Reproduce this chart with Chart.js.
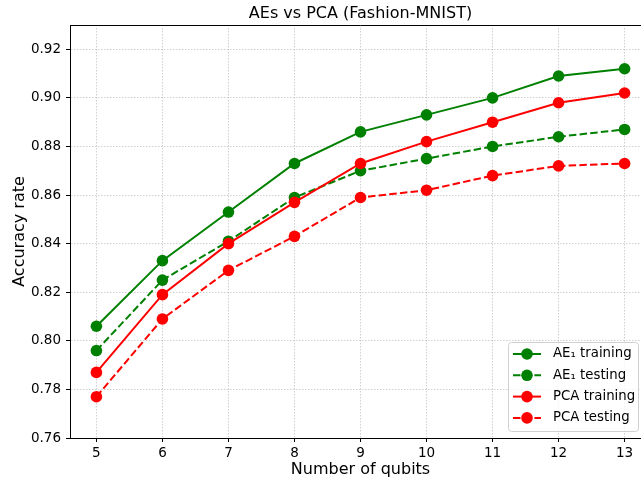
<!DOCTYPE html>
<html>
<head>
<meta charset="utf-8">
<script src="https://cdn.jsdelivr.net/npm/chart.js@4.4.1/dist/chart.umd.min.js"></script>
<style>
  html, body { margin: 0; padding: 0; background: #fff; overflow: hidden; }
  #wrap { width: 722px; height: 481px; }
</style>
</head>
<body>
<div id="wrap"><canvas id="accChart" width="722" height="481"></canvas></div>
<script>
// Data
const qubits = [5, 6, 7, 8, 9, 10, 11, 12, 13];
const aeTrain = [0.806, 0.833, 0.853, 0.873, 0.886, 0.893, 0.900, 0.909, 0.912];
const aeTest = [0.796, 0.825, 0.841, 0.859, 0.870, 0.875, 0.880, 0.884, 0.887];
const pcaTrain = [0.787, 0.819, 0.840, 0.857, 0.873, 0.882, 0.890, 0.898, 0.902];
const pcaTest = [0.777, 0.809, 0.829, 0.843, 0.859, 0.862, 0.868, 0.872, 0.873];
const yTicks = [0.76, 0.78, 0.80, 0.82, 0.84, 0.86, 0.88, 0.90, 0.92];

const FONT = 'DejaVu Sans';
const GREEN = '#008000';
const RED = '#ff0000';
const DASH = [7.5, 3.2];

function series(label, values, color, dashed, order) {
    return {
        label: label,
        data: qubits.map((q, i) => ({ x: q, y: values[i] })),
        borderColor: color,
        backgroundColor: color,
        borderWidth: 2,
        borderDash: dashed ? DASH : [],
        pointRadius: 5.8,
        pointBorderWidth: 0,
        pointBackgroundColor: color,
        tension: 0,
        order: order,
        _dashed: dashed
    };
}

// Title above the axes and the top spine
const framePlugin = {
    id: 'frame',
    afterDraw(chart) {
        const { ctx, chartArea } = chart;
        ctx.save();
        ctx.strokeStyle = '#000';
        ctx.lineWidth = 1;
        ctx.beginPath();
        ctx.moveTo(chartArea.left, chartArea.top + 0.5);
        ctx.lineTo(chartArea.right, chartArea.top + 0.5);
        ctx.stroke();
        ctx.fillStyle = '#000';
        ctx.font = `16px "${FONT}"`;
        ctx.textAlign = 'center';
        ctx.textBaseline = 'alphabetic';
        ctx.fillText('AEs vs PCA (Fashion-MNIST)', (chartArea.left + chartArea.right) / 2, 18);
        ctx.restore();
    }
};

// Legend box in the lower right corner of the axes
const legendPlugin = {
    id: 'boxLegend',
    afterDraw(chart) {
        const { ctx } = chart;
        const x0 = 508, y0 = 342, w = 130, h = 89;
        ctx.save();
        ctx.beginPath();
        ctx.roundRect(x0 + 0.5, y0 + 0.5, w, h, 3);
        ctx.fillStyle = 'rgba(255,255,255,0.8)';
        ctx.fill();
        ctx.strokeStyle = '#d0d0d0';
        ctx.lineWidth = 1;
        ctx.stroke();
        ctx.font = `13.3px "${FONT}"`;
        ctx.textBaseline = 'middle';
        ctx.textAlign = 'left';
        const sets = chart.data.datasets;
        sets.forEach((ds, i) => {
            const y = 354 + i * 21.3;
            ctx.strokeStyle = ds.borderColor;
            ctx.lineWidth = 2;
            ctx.setLineDash(ds._dashed ? DASH : []);
            ctx.beginPath();
            ctx.moveTo(513, y);
            ctx.lineTo(541, y);
            ctx.stroke();
            ctx.setLineDash([]);
            ctx.fillStyle = ds.borderColor;
            ctx.beginPath();
            ctx.arc(527, y, 5.8, 0, Math.PI * 2);
            ctx.fill();
            ctx.fillStyle = '#000';
            ctx.fillText(ds.label, 553, y);
        });
        ctx.restore();
    }
};

const gridOpts = {
    color: 'rgba(176,176,176,0.6)',
    lineWidth: 1,
    tickColor: '#000',
    tickLength: 4,
    tickWidth: 1,
    tickBorderDash: []
};

new Chart(document.getElementById('accChart'), {
    type: 'line',
    data: {
        datasets: [
            series('AE\u2081 training', aeTrain, GREEN, false, 4),
            series('AE\u2081 testing', aeTest, GREEN, true, 3),
            series('PCA training', pcaTrain, RED, false, 2),
            series('PCA testing', pcaTest, RED, true, 1)
        ]
    },
    options: {
        responsive: false,
        animation: false,
        devicePixelRatio: 1,
        layout: { padding: { top: 25, right: 71, left: 0, bottom: 0 } },
        plugins: {
            legend: { display: false },
            tooltip: { enabled: false },
            title: { display: false }
        },
        scales: {
            x: {
                type: 'linear',
                min: 4.6,
                max: 13.4,
                afterFit: s => { s.height = 43; },
                afterBuildTicks: s => { s.ticks = qubits.map(v => ({ value: v })); },
                ticks: {
                    color: '#000',
                    padding: 3,
                    font: { family: FONT, size: 13.5 },
                    callback: v => String(v)
                },
                grid: gridOpts,
                border: { display: true, color: '#000', width: 1, dash: [1.5, 1.5] },
                title: {
                    display: true,
                    text: 'Number of qubits',
                    color: '#000',
                    font: { family: FONT, size: 16 },
                    padding: { top: 0, bottom: 2 }
                }
            },
            y: {
                min: 0.76,
                max: 0.93,
                afterFit: s => { s.width = 70; },
                afterBuildTicks: s => { s.ticks = yTicks.map(v => ({ value: v })); },
                ticks: {
                    color: '#000',
                    padding: 5,
                    font: { family: FONT, size: 13.5 },
                    callback: v => v.toFixed(2)
                },
                grid: gridOpts,
                border: { display: true, color: '#000', width: 1, dash: [1.5, 1.5] },
                title: {
                    display: true,
                    text: 'Accuracy rate',
                    color: '#000',
                    font: { family: FONT, size: 16 },
                    padding: { top: 10, bottom: 0 }
                }
            }
        }
    },
    plugins: [framePlugin, legendPlugin]
});
</script>
</body>
</html>
